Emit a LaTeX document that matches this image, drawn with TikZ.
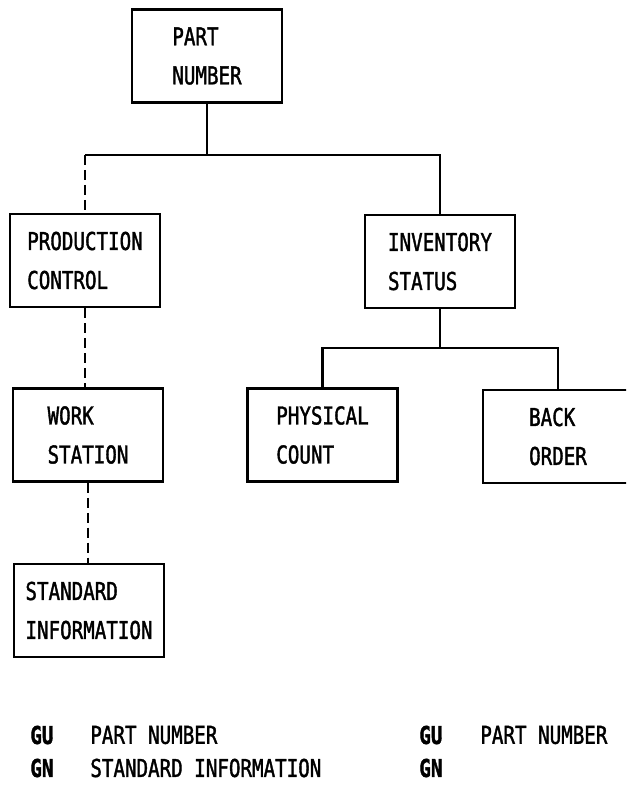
\documentclass[tikz,border=0pt]{standalone}
\usepackage{fontspec}
\newfontfamily\chartfont[FakeStretch=0.78, FakeBold=1.5]{DejaVu Sans Mono}
\usepackage{tikz}
\usetikzlibrary{calc}

\begin{document}
\begin{tikzpicture}[
    x=0.02cm, y=-0.02cm,
    font=\chartfont\fontsize{14}{22.2}\selectfont,
    box/.style={rectangle, draw=black, line width=1.6pt, minimum width=3cm,
                minimum height=1.86cm, align=left, inner sep=0pt},
    link/.style={line width=1.6pt},
    dlink/.style={link, dash pattern=on 5.7pt off 2.8pt},
    key/.style={anchor=west, inner sep=0pt},
    keyb/.style={key, font=\chartfont\bfseries\fontsize{14}{22.2}\selectfont}
]
\clip (0,0) rectangle (626,785);
\node[box] (part) at (207,56)    {PART\\NUMBER};
\node[box] (prod) at (85,260.5)  {PRODUCTION\\CONTROL};
\node[box] (inv)  at (440,261.5) {INVENTORY\\STATUS};
\node[box] (work) at (88,435)    {WORK\\STATION};
\node[box] (phys) at (322.5,435) {PHYSICAL\\COUNT};
\node[box] (back) at (558,436.5) {BACK\\ORDER};
\node[box] (std)  at (89,610.5)  {STANDARD\\INFORMATION};
\coordinate (top) at (207,155);
\coordinate (low) at (440,348);
\draw[link] (part.south) -- (top);
\draw[link] (prod.north |- top) -- (inv.north |- top) -- (inv.north);
\draw[dlink] (prod.north |- top) -- (prod.north);
\draw[dlink] (prod.south) -- (prod.south |- work.north);
\draw[dlink] (work.south) -- (work.south |- std.north);
\draw[link] (inv.south) -- (low);
\draw[link] (phys.north) |- (low) -| (back.north);
% key lines under the chart
\node[keyb] (gu1) at (30,735)  {GU};
\node[key]  (pn1) at (90,735)  {PART NUMBER};
\node[keyb] (gn1) at (30,768)  {GN};
\node[key]  (si1) at (90,768)  {STANDARD INFORMATION};
\node[keyb] (gu2) at (419,735) {GU};
\node[key]  (pn2) at (480,735) {PART NUMBER};
\node[keyb] (gn2) at (419,768) {GN};
\end{tikzpicture}
\end{document}
